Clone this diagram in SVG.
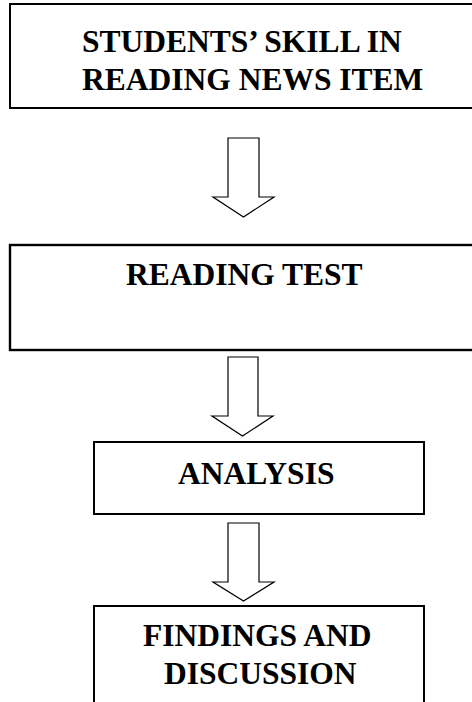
<svg xmlns="http://www.w3.org/2000/svg" width="472" height="702" viewBox="0 0 472 702">
<style>
.box{fill:#fff;stroke:#000;stroke-width:2}
.arr{fill:#fff;stroke:#000;stroke-width:1.2;stroke-linejoin:miter}
.t{font-family:"Liberation Serif","Times New Roman",serif;font-weight:bold;font-size:31.5px;fill:#000}
</style>
<rect width="472" height="702" fill="#fff"/>
<g id="node-students">
<rect class="box" x="10" y="4" width="480" height="104"/>
<text class="t" x="82" y="52">STUDENTS’ SKILL IN</text>
<text class="t" x="82" y="90">READING NEWS ITEM</text>
</g>
<g id="node-reading-test">
<rect class="box" x="10" y="245" width="480" height="105" style="stroke-width:2.4"/>
<text class="t" x="126" y="285">READING TEST</text>
</g>
<g id="node-analysis">
<rect class="box" x="94" y="442" width="330" height="72"/>
<text class="t" x="178" y="484">ANALYSIS</text>
</g>
<g id="node-findings">
<rect class="box" x="94" y="606" width="330" height="110"/>
<text class="t" x="143" y="646">FINDINGS AND</text>
<text class="t" x="164" y="684">DISCUSSION</text>
</g>
<g id="connectors">
<polygon class="arr" points="228,138 259,138 259,197 274,197 243.5,217 213,197 228,197"/>
<polygon class="arr" points="228,357 258,357 258,416 273,416 242.5,436 212,416 228,416"/>
<polygon class="arr" points="228,523 259,523 259,582 274,582 243.5,601 213,582 228,582"/>
</g>
</svg>
